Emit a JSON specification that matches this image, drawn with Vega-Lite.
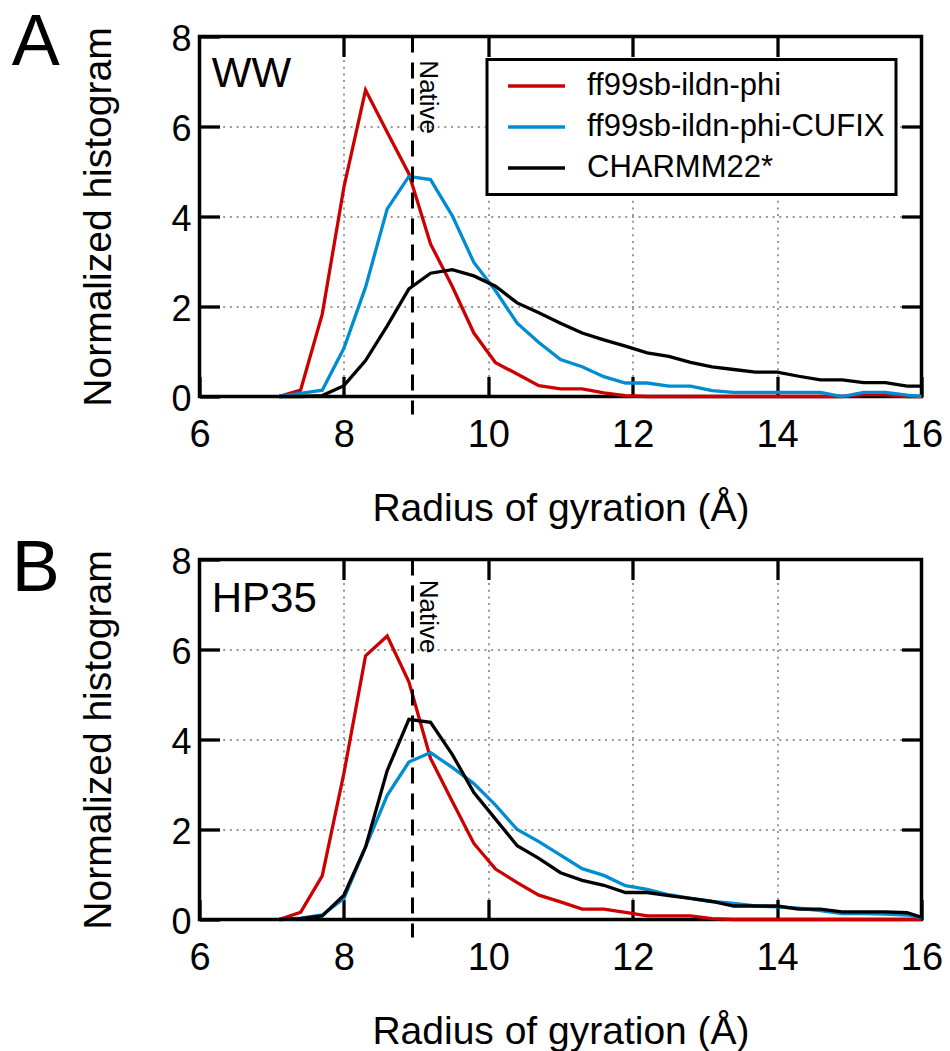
{
  "$schema": "https://vega.github.io/schema/vega-lite/v6.json",
  "padding": {"left": 9.5, "top": 4.5, "right": 0, "bottom": 0},
  "spacing": 0,
  "config": {
    "font": "Liberation Sans",
    "view": {"stroke": "black", "strokeWidth": 3.5},
    "legend": {"strokeWidth": 3},
    "axis": {"labelColor": "black", "titleColor": "black", "titleFontWeight": "normal", "labelFlush": false, "labelOverlap": false}
  },
  "datasets": {
    "ww": [
      {"rg":7.1,"h":0,"model":"ff99sb-ildn-phi"},{"rg":7.4,"h":0.14,"model":"ff99sb-ildn-phi"},{"rg":7.7,"h":1.83,"model":"ff99sb-ildn-phi"},{"rg":8.0,"h":4.65,"model":"ff99sb-ildn-phi"},{"rg":8.3,"h":6.81,"model":"ff99sb-ildn-phi"},{"rg":8.6,"h":5.87,"model":"ff99sb-ildn-phi"},{"rg":8.9,"h":4.95,"model":"ff99sb-ildn-phi"},{"rg":9.2,"h":3.39,"model":"ff99sb-ildn-phi"},{"rg":9.5,"h":2.45,"model":"ff99sb-ildn-phi"},{"rg":9.8,"h":1.41,"model":"ff99sb-ildn-phi"},{"rg":10.1,"h":0.75,"model":"ff99sb-ildn-phi"},{"rg":10.4,"h":0.5,"model":"ff99sb-ildn-phi"},{"rg":10.7,"h":0.24,"model":"ff99sb-ildn-phi"},{"rg":11.0,"h":0.17,"model":"ff99sb-ildn-phi"},{"rg":11.3,"h":0.17,"model":"ff99sb-ildn-phi"},{"rg":11.6,"h":0.08,"model":"ff99sb-ildn-phi"},{"rg":11.9,"h":0.02,"model":"ff99sb-ildn-phi"},{"rg":12.2,"h":0,"model":"ff99sb-ildn-phi"},{"rg":12.5,"h":0,"model":"ff99sb-ildn-phi"},{"rg":12.8,"h":0,"model":"ff99sb-ildn-phi"},{"rg":13.1,"h":0,"model":"ff99sb-ildn-phi"},{"rg":13.4,"h":0,"model":"ff99sb-ildn-phi"},{"rg":13.7,"h":0,"model":"ff99sb-ildn-phi"},{"rg":14.0,"h":0,"model":"ff99sb-ildn-phi"},{"rg":14.3,"h":0,"model":"ff99sb-ildn-phi"},{"rg":14.6,"h":0,"model":"ff99sb-ildn-phi"},{"rg":14.9,"h":0,"model":"ff99sb-ildn-phi"},{"rg":15.2,"h":0.04,"model":"ff99sb-ildn-phi"},{"rg":15.5,"h":0.04,"model":"ff99sb-ildn-phi"},{"rg":15.8,"h":0,"model":"ff99sb-ildn-phi"},{"rg":16.0,"h":0,"model":"ff99sb-ildn-phi"},
      {"rg":7.1,"h":0,"model":"ff99sb-ildn-phi-CUFIX"},{"rg":7.4,"h":0.07,"model":"ff99sb-ildn-phi-CUFIX"},{"rg":7.7,"h":0.14,"model":"ff99sb-ildn-phi-CUFIX"},{"rg":8.0,"h":1.07,"model":"ff99sb-ildn-phi-CUFIX"},{"rg":8.3,"h":2.43,"model":"ff99sb-ildn-phi-CUFIX"},{"rg":8.6,"h":4.17,"model":"ff99sb-ildn-phi-CUFIX"},{"rg":8.9,"h":4.89,"model":"ff99sb-ildn-phi-CUFIX"},{"rg":9.2,"h":4.82,"model":"ff99sb-ildn-phi-CUFIX"},{"rg":9.5,"h":4.02,"model":"ff99sb-ildn-phi-CUFIX"},{"rg":9.8,"h":2.98,"model":"ff99sb-ildn-phi-CUFIX"},{"rg":10.1,"h":2.35,"model":"ff99sb-ildn-phi-CUFIX"},{"rg":10.4,"h":1.63,"model":"ff99sb-ildn-phi-CUFIX"},{"rg":10.7,"h":1.2,"model":"ff99sb-ildn-phi-CUFIX"},{"rg":11.0,"h":0.82,"model":"ff99sb-ildn-phi-CUFIX"},{"rg":11.3,"h":0.66,"model":"ff99sb-ildn-phi-CUFIX"},{"rg":11.6,"h":0.44,"model":"ff99sb-ildn-phi-CUFIX"},{"rg":11.9,"h":0.3,"model":"ff99sb-ildn-phi-CUFIX"},{"rg":12.2,"h":0.3,"model":"ff99sb-ildn-phi-CUFIX"},{"rg":12.5,"h":0.23,"model":"ff99sb-ildn-phi-CUFIX"},{"rg":12.8,"h":0.23,"model":"ff99sb-ildn-phi-CUFIX"},{"rg":13.1,"h":0.13,"model":"ff99sb-ildn-phi-CUFIX"},{"rg":13.4,"h":0.09,"model":"ff99sb-ildn-phi-CUFIX"},{"rg":13.7,"h":0.09,"model":"ff99sb-ildn-phi-CUFIX"},{"rg":14.0,"h":0.09,"model":"ff99sb-ildn-phi-CUFIX"},{"rg":14.3,"h":0.09,"model":"ff99sb-ildn-phi-CUFIX"},{"rg":14.6,"h":0.09,"model":"ff99sb-ildn-phi-CUFIX"},{"rg":14.9,"h":0,"model":"ff99sb-ildn-phi-CUFIX"},{"rg":15.2,"h":0.09,"model":"ff99sb-ildn-phi-CUFIX"},{"rg":15.5,"h":0.09,"model":"ff99sb-ildn-phi-CUFIX"},{"rg":15.8,"h":0.03,"model":"ff99sb-ildn-phi-CUFIX"},{"rg":16.0,"h":0,"model":"ff99sb-ildn-phi-CUFIX"},
      {"rg":7.1,"h":0,"model":"CHARMM22*"},{"rg":7.4,"h":0,"model":"CHARMM22*"},{"rg":7.7,"h":0.02,"model":"CHARMM22*"},{"rg":8.0,"h":0.24,"model":"CHARMM22*"},{"rg":8.3,"h":0.8,"model":"CHARMM22*"},{"rg":8.6,"h":1.57,"model":"CHARMM22*"},{"rg":8.9,"h":2.39,"model":"CHARMM22*"},{"rg":9.2,"h":2.74,"model":"CHARMM22*"},{"rg":9.5,"h":2.82,"model":"CHARMM22*"},{"rg":9.8,"h":2.68,"model":"CHARMM22*"},{"rg":10.1,"h":2.45,"model":"CHARMM22*"},{"rg":10.4,"h":2.08,"model":"CHARMM22*"},{"rg":10.7,"h":1.86,"model":"CHARMM22*"},{"rg":11.0,"h":1.63,"model":"CHARMM22*"},{"rg":11.3,"h":1.41,"model":"CHARMM22*"},{"rg":11.6,"h":1.26,"model":"CHARMM22*"},{"rg":11.9,"h":1.12,"model":"CHARMM22*"},{"rg":12.2,"h":0.97,"model":"CHARMM22*"},{"rg":12.5,"h":0.89,"model":"CHARMM22*"},{"rg":12.8,"h":0.76,"model":"CHARMM22*"},{"rg":13.1,"h":0.66,"model":"CHARMM22*"},{"rg":13.4,"h":0.6,"model":"CHARMM22*"},{"rg":13.7,"h":0.54,"model":"CHARMM22*"},{"rg":14.0,"h":0.54,"model":"CHARMM22*"},{"rg":14.3,"h":0.45,"model":"CHARMM22*"},{"rg":14.6,"h":0.37,"model":"CHARMM22*"},{"rg":14.9,"h":0.37,"model":"CHARMM22*"},{"rg":15.2,"h":0.31,"model":"CHARMM22*"},{"rg":15.5,"h":0.31,"model":"CHARMM22*"},{"rg":15.8,"h":0.23,"model":"CHARMM22*"},{"rg":16.0,"h":0.23,"model":"CHARMM22*"}
    ],
    "hp": [
      {"rg":7.1,"h":0,"model":"ff99sb-ildn-phi"},{"rg":7.4,"h":0.16,"model":"ff99sb-ildn-phi"},{"rg":7.7,"h":0.97,"model":"ff99sb-ildn-phi"},{"rg":8.0,"h":3.25,"model":"ff99sb-ildn-phi"},{"rg":8.3,"h":5.86,"model":"ff99sb-ildn-phi"},{"rg":8.6,"h":6.3,"model":"ff99sb-ildn-phi"},{"rg":8.9,"h":5.28,"model":"ff99sb-ildn-phi"},{"rg":9.2,"h":3.58,"model":"ff99sb-ildn-phi"},{"rg":9.5,"h":2.63,"model":"ff99sb-ildn-phi"},{"rg":9.8,"h":1.69,"model":"ff99sb-ildn-phi"},{"rg":10.1,"h":1.12,"model":"ff99sb-ildn-phi"},{"rg":10.4,"h":0.82,"model":"ff99sb-ildn-phi"},{"rg":10.7,"h":0.54,"model":"ff99sb-ildn-phi"},{"rg":11.0,"h":0.39,"model":"ff99sb-ildn-phi"},{"rg":11.3,"h":0.23,"model":"ff99sb-ildn-phi"},{"rg":11.6,"h":0.23,"model":"ff99sb-ildn-phi"},{"rg":11.9,"h":0.16,"model":"ff99sb-ildn-phi"},{"rg":12.2,"h":0.08,"model":"ff99sb-ildn-phi"},{"rg":12.5,"h":0.08,"model":"ff99sb-ildn-phi"},{"rg":12.8,"h":0.08,"model":"ff99sb-ildn-phi"},{"rg":13.1,"h":0.02,"model":"ff99sb-ildn-phi"},{"rg":13.4,"h":0,"model":"ff99sb-ildn-phi"},{"rg":13.7,"h":0,"model":"ff99sb-ildn-phi"},{"rg":14.0,"h":0,"model":"ff99sb-ildn-phi"},{"rg":14.3,"h":0,"model":"ff99sb-ildn-phi"},{"rg":14.6,"h":0,"model":"ff99sb-ildn-phi"},{"rg":14.9,"h":0,"model":"ff99sb-ildn-phi"},{"rg":15.2,"h":0,"model":"ff99sb-ildn-phi"},{"rg":15.5,"h":0,"model":"ff99sb-ildn-phi"},{"rg":15.8,"h":0,"model":"ff99sb-ildn-phi"},{"rg":16.0,"h":0,"model":"ff99sb-ildn-phi"},
      {"rg":7.1,"h":0,"model":"ff99sb-ildn-phi-CUFIX"},{"rg":7.4,"h":0.03,"model":"ff99sb-ildn-phi-CUFIX"},{"rg":7.7,"h":0.1,"model":"ff99sb-ildn-phi-CUFIX"},{"rg":8.0,"h":0.47,"model":"ff99sb-ildn-phi-CUFIX"},{"rg":8.3,"h":1.61,"model":"ff99sb-ildn-phi-CUFIX"},{"rg":8.6,"h":2.76,"model":"ff99sb-ildn-phi-CUFIX"},{"rg":8.9,"h":3.5,"model":"ff99sb-ildn-phi-CUFIX"},{"rg":9.2,"h":3.71,"model":"ff99sb-ildn-phi-CUFIX"},{"rg":9.5,"h":3.38,"model":"ff99sb-ildn-phi-CUFIX"},{"rg":9.8,"h":3.02,"model":"ff99sb-ildn-phi-CUFIX"},{"rg":10.1,"h":2.54,"model":"ff99sb-ildn-phi-CUFIX"},{"rg":10.4,"h":2.0,"model":"ff99sb-ildn-phi-CUFIX"},{"rg":10.7,"h":1.73,"model":"ff99sb-ildn-phi-CUFIX"},{"rg":11.0,"h":1.43,"model":"ff99sb-ildn-phi-CUFIX"},{"rg":11.3,"h":1.13,"model":"ff99sb-ildn-phi-CUFIX"},{"rg":11.6,"h":0.98,"model":"ff99sb-ildn-phi-CUFIX"},{"rg":11.9,"h":0.75,"model":"ff99sb-ildn-phi-CUFIX"},{"rg":12.2,"h":0.67,"model":"ff99sb-ildn-phi-CUFIX"},{"rg":12.5,"h":0.55,"model":"ff99sb-ildn-phi-CUFIX"},{"rg":12.8,"h":0.47,"model":"ff99sb-ildn-phi-CUFIX"},{"rg":13.1,"h":0.4,"model":"ff99sb-ildn-phi-CUFIX"},{"rg":13.4,"h":0.36,"model":"ff99sb-ildn-phi-CUFIX"},{"rg":13.7,"h":0.3,"model":"ff99sb-ildn-phi-CUFIX"},{"rg":14.0,"h":0.28,"model":"ff99sb-ildn-phi-CUFIX"},{"rg":14.3,"h":0.25,"model":"ff99sb-ildn-phi-CUFIX"},{"rg":14.6,"h":0.2,"model":"ff99sb-ildn-phi-CUFIX"},{"rg":14.9,"h":0.13,"model":"ff99sb-ildn-phi-CUFIX"},{"rg":15.2,"h":0.13,"model":"ff99sb-ildn-phi-CUFIX"},{"rg":15.5,"h":0.12,"model":"ff99sb-ildn-phi-CUFIX"},{"rg":15.8,"h":0.1,"model":"ff99sb-ildn-phi-CUFIX"},{"rg":16.0,"h":0.04,"model":"ff99sb-ildn-phi-CUFIX"},
      {"rg":7.1,"h":0,"model":"CHARMM22*"},{"rg":7.4,"h":0.02,"model":"CHARMM22*"},{"rg":7.7,"h":0.08,"model":"CHARMM22*"},{"rg":8.0,"h":0.54,"model":"CHARMM22*"},{"rg":8.3,"h":1.61,"model":"CHARMM22*"},{"rg":8.6,"h":3.31,"model":"CHARMM22*"},{"rg":8.9,"h":4.45,"model":"CHARMM22*"},{"rg":9.2,"h":4.38,"model":"CHARMM22*"},{"rg":9.5,"h":3.67,"model":"CHARMM22*"},{"rg":9.8,"h":2.82,"model":"CHARMM22*"},{"rg":10.1,"h":2.23,"model":"CHARMM22*"},{"rg":10.4,"h":1.64,"model":"CHARMM22*"},{"rg":10.7,"h":1.36,"model":"CHARMM22*"},{"rg":11.0,"h":1.04,"model":"CHARMM22*"},{"rg":11.3,"h":0.87,"model":"CHARMM22*"},{"rg":11.6,"h":0.76,"model":"CHARMM22*"},{"rg":11.9,"h":0.6,"model":"CHARMM22*"},{"rg":12.2,"h":0.6,"model":"CHARMM22*"},{"rg":12.5,"h":0.53,"model":"CHARMM22*"},{"rg":12.8,"h":0.47,"model":"CHARMM22*"},{"rg":13.1,"h":0.4,"model":"CHARMM22*"},{"rg":13.4,"h":0.3,"model":"CHARMM22*"},{"rg":13.7,"h":0.3,"model":"CHARMM22*"},{"rg":14.0,"h":0.3,"model":"CHARMM22*"},{"rg":14.3,"h":0.23,"model":"CHARMM22*"},{"rg":14.6,"h":0.23,"model":"CHARMM22*"},{"rg":14.9,"h":0.17,"model":"CHARMM22*"},{"rg":15.2,"h":0.17,"model":"CHARMM22*"},{"rg":15.5,"h":0.17,"model":"CHARMM22*"},{"rg":15.8,"h":0.15,"model":"CHARMM22*"},{"rg":16.0,"h":0.05,"model":"CHARMM22*"}
    ]
  },
  "vconcat": [
    {
      "width": 722,
      "height": 360,
      "layer": [
        {
          "data": {"name": "ww"},
          "mark": {"type": "line", "strokeWidth": 3.3},
          "encoding": {
            "x": {"field": "rg", "type": "quantitative", "scale": {"domain": [6, 16], "nice": false, "zero": false},
              "axis": {"orient": "bottom", "offset": -20, "values": [6, 8, 10, 12, 14, 16], "title": "Radius of gyration (Å)", "titleFontSize": 39, "titlePadding": 35, "labelFontSize": 38, "labelPadding": 20, "tickSize": 20, "tickWidth": 3.3, "tickColor": "black", "domain": false, "grid": false}},
            "y": {"field": "h", "type": "quantitative", "scale": {"domain": [0, 8], "nice": false},
              "axis": {"orient": "left", "offset": -20, "values": [0, 2, 4, 6, 8], "title": "Normalized histogram", "titleFontSize": 39, "titlePadding": 52, "labelFontSize": 36, "labelPadding": 8.5, "labelOffset": 3, "tickSize": 20, "tickWidth": 3.3, "tickColor": "black", "domain": false, "grid": false}},
            "color": {"field": "model", "type": "nominal",
              "scale": {"domain": ["ff99sb-ildn-phi", "ff99sb-ildn-phi-CUFIX", "CHARMM22*"], "range": ["#cc0000", "#008cd2", "#000000"]},
              "legend": {"orient": "none", "legendX": 287.5, "legendY": 23, "title": null, "symbolType": "M-2.5,0L2.5,0", "symbolSize": 520, "symbolStrokeWidth": 3.3, "labelFontSize": 31, "labelColor": "black", "labelLimit": 500, "labelOffset": 35, "symbolOffset": 23, "padding": 11, "rowPadding": 9, "strokeColor": "black", "fillColor": "white"}}
          }
        },
        {
          "data": {"values": [{}]},
          "mark": {"type": "rule", "strokeWidth": 3, "strokeDash": [16, 10], "color": "black"},
          "encoding": {
            "x": {"datum": 8.95, "type": "quantitative",
              "axis": {"orient": "top", "offset": -20, "values": [8, 10, 12, 14], "labels": false, "title": null, "domain": false, "tickSize": 20, "tickWidth": 3.3, "tickColor": "black", "grid": true, "gridDash": [2, 4.7], "gridColor": "#999999", "gridWidth": 2}},
            "y": {"datum": 8, "type": "quantitative",
              "axis": {"orient": "right", "offset": -20, "values": [2, 4, 6], "labels": false, "title": null, "domain": false, "tickSize": 20, "tickWidth": 3.3, "tickColor": "black", "grid": true, "gridDash": [2, 4.7], "gridColor": "#999999", "gridWidth": 2}},
            "y2": {"datum": -0.4}
          }
        },
        {
          "data": {"values": [{}]},
          "mark": {"type": "text", "text": "Native", "angle": 90, "align": "left", "baseline": "alphabetic", "fontSize": 26, "color": "black"},
          "encoding": {"x": {"datum": 9.06, "type": "quantitative", "axis": null}, "y": {"datum": 7.47, "type": "quantitative", "axis": null}}
        },
        {
          "data": {"values": [{}]},
          "mark": {"type": "text", "text": "WW", "align": "left", "baseline": "alphabetic", "fontSize": 42, "color": "black"},
          "encoding": {"x": {"datum": 6.17, "type": "quantitative", "axis": null}, "y": {"datum": 6.88, "type": "quantitative", "axis": null}}
        },
        {
          "data": {"values": [{}]},
          "mark": {"type": "text", "text": "A", "align": "right", "baseline": "alphabetic", "fontSize": 72, "color": "black"},
          "encoding": {"x": {"datum": 4.066, "type": "quantitative", "axis": null}, "y": {"datum": 7.37, "type": "quantitative", "axis": null}}
        }
      ],
      "resolve": {"axis": {"x": "independent", "y": "independent"}}
    },
    {
      "width": 722,
      "height": 360,
      "layer": [
        {
          "data": {"name": "hp"},
          "mark": {"type": "line", "strokeWidth": 3.3},
          "encoding": {
            "x": {"field": "rg", "type": "quantitative", "scale": {"domain": [6, 16], "nice": false, "zero": false},
              "axis": {"orient": "bottom", "offset": -20, "values": [6, 8, 10, 12, 14, 16], "title": "Radius of gyration (Å)", "titleFontSize": 39, "titlePadding": 35, "labelFontSize": 38, "labelPadding": 20, "tickSize": 20, "tickWidth": 3.3, "tickColor": "black", "domain": false, "grid": false}},
            "y": {"field": "h", "type": "quantitative", "scale": {"domain": [0, 8], "nice": false},
              "axis": {"orient": "left", "offset": -20, "values": [0, 2, 4, 6, 8], "title": "Normalized histogram", "titleFontSize": 39, "titlePadding": 52, "labelFontSize": 36, "labelPadding": 8.5, "labelOffset": 3, "tickSize": 20, "tickWidth": 3.3, "tickColor": "black", "domain": false, "grid": false}},
            "color": {"field": "model", "type": "nominal",
              "scale": {"domain": ["ff99sb-ildn-phi", "ff99sb-ildn-phi-CUFIX", "CHARMM22*"], "range": ["#cc0000", "#008cd2", "#000000"]},
              "legend": {"orient": "none", "legendX": 284.5, "legendY": 30, "title": null, "symbolType": "M-2.5,0L2.5,0", "symbolSize": 520, "symbolStrokeWidth": 3.3, "labelFontSize": 31, "labelColor": "black", "labelLimit": 500, "labelOffset": 35, "symbolOffset": 23, "padding": 11, "rowPadding": 9, "strokeColor": "black", "fillColor": "white"}}
          }
        },
        {
          "data": {"values": [{}]},
          "mark": {"type": "rule", "strokeWidth": 3, "strokeDash": [16, 10], "color": "black"},
          "encoding": {
            "x": {"datum": 8.95, "type": "quantitative",
              "axis": {"orient": "top", "offset": -20, "values": [8, 10, 12, 14], "labels": false, "title": null, "domain": false, "tickSize": 20, "tickWidth": 3.3, "tickColor": "black", "grid": true, "gridDash": [2, 4.7], "gridColor": "#999999", "gridWidth": 2}},
            "y": {"datum": 8, "type": "quantitative",
              "axis": {"orient": "right", "offset": -20, "values": [2, 4, 6], "labels": false, "title": null, "domain": false, "tickSize": 20, "tickWidth": 3.3, "tickColor": "black", "grid": true, "gridDash": [2, 4.7], "gridColor": "#999999", "gridWidth": 2}},
            "y2": {"datum": -0.4}
          }
        },
        {
          "data": {"values": [{}]},
          "mark": {"type": "text", "text": "Native", "angle": 90, "align": "left", "baseline": "alphabetic", "fontSize": 26, "color": "black"},
          "encoding": {"x": {"datum": 9.06, "type": "quantitative", "axis": null}, "y": {"datum": 7.55, "type": "quantitative", "axis": null}}
        },
        {
          "data": {"values": [{}]},
          "mark": {"type": "text", "text": "HP35", "align": "left", "baseline": "alphabetic", "fontSize": 42, "color": "black"},
          "encoding": {"x": {"datum": 6.17, "type": "quantitative", "axis": null}, "y": {"datum": 6.84, "type": "quantitative", "axis": null}}
        },
        {
          "data": {"values": [{}]},
          "mark": {"type": "text", "text": "B", "align": "right", "baseline": "alphabetic", "fontSize": 72, "color": "black"},
          "encoding": {"x": {"datum": 4.066, "type": "quantitative", "axis": null}, "y": {"datum": 7.3, "type": "quantitative", "axis": null}}
        }
      ],
      "resolve": {"axis": {"x": "independent", "y": "independent"}}
    }
  ]
}
